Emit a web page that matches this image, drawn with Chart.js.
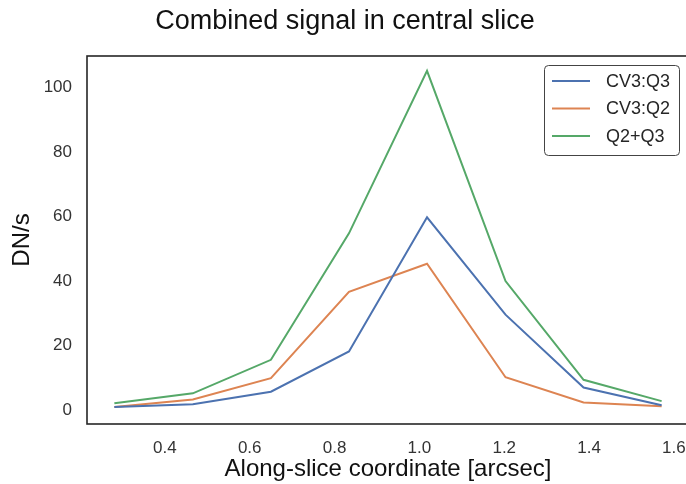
<!DOCTYPE html>
<html>
<head>
<meta charset="utf-8">
<script src="https://cdn.jsdelivr.net/npm/chart.js@4/dist/chart.umd.min.js"></script>
<style>
  html, body { margin: 0; padding: 0; background: #fff; overflow: hidden; }
  #wrap { width: 700px; height: 484px; position: relative; }
</style>
</head>
<body>
<div id="wrap"><canvas id="c" width="700" height="484"></canvas></div>
<script>
// Along-slice positions [arcsec]
const positions = [0.281, 0.466, 0.650, 0.834, 1.018, 1.203, 1.387, 1.571];
// Signal per quadrant [DN/s]
const cv3Q3 = [1.0, 1.8, 5.7, 18.2, 59.8, 29.6, 7.0, 1.5];
const cv3Q2 = [1.0, 3.3, 9.9, 36.7, 45.4, 10.2, 2.4, 1.2];
const q2PlusQ3 = [2.1, 5.2, 15.6, 54.8, 105.2, 40.0, 9.4, 2.8];

const seriesNames = ['CV3:Q3', 'CV3:Q2', 'Q2+Q3'];
const seriesColors = ['#4c72b0', '#dd8452', '#55a868'];
const seriesValues = [cv3Q3, cv3Q2, q2PlusQ3];

const xTicks = [0.4, 0.6, 0.8, 1.0, 1.2, 1.4, 1.6];
const yTicks = [0, 20, 40, 60, 80, 100];

const FONT = '"Liberation Sans", Arial, sans-serif';
const INK = '#262626';

const datasets = seriesNames.map((name, i) => ({
  label: name,
  data: positions.map((x, j) => ({ x, y: seriesValues[i][j] })),
  borderColor: seriesColors[i],
  backgroundColor: seriesColors[i],
  borderWidth: 2,
  pointRadius: 0,
  tension: 0,
  fill: false
}));

// Box around the plotting area
const framePlugin = {
  id: 'frame',
  afterDatasetsDraw(chart) {
    const { ctx, chartArea: a } = chart;
    ctx.save();
    ctx.strokeStyle = INK;
    ctx.lineWidth = 1.6;
    ctx.strokeRect(a.left, a.top, a.right - a.left, a.bottom - a.top);
    ctx.restore();
  }
};

// Framed legend in the upper right of the plot
const boxLegendPlugin = {
  id: 'boxLegend',
  afterDraw(chart) {
    const { ctx } = chart;
    const x0 = 544, y0 = 65, w = 135, h = 90, r = 4;
    ctx.save();
    ctx.beginPath();
    ctx.roundRect(x0 + 0.5, y0 + 0.5, w, h, r);
    ctx.fillStyle = 'rgba(255,255,255,0.9)';
    ctx.fill();
    ctx.strokeStyle = '#444';
    ctx.lineWidth = 1;
    ctx.stroke();
    ctx.font = '18px ' + FONT;
    ctx.textBaseline = 'middle';
    ctx.textAlign = 'left';
    chart.data.datasets.forEach((ds, i) => {
      const y = y0 + 16 + i * 27.5;
      ctx.beginPath();
      ctx.moveTo(552, y);
      ctx.lineTo(590, y);
      ctx.strokeStyle = ds.borderColor;
      ctx.lineWidth = 2;
      ctx.stroke();
      ctx.fillStyle = INK;
      ctx.fillText(ds.label, 606, y + 1);
    });
    ctx.restore();
  }
};

new Chart(document.getElementById('c'), {
  type: 'line',
  data: { datasets },
  plugins: [framePlugin, boxLegendPlugin],
  options: {
    responsive: false,
    animation: false,
    layout: { padding: { left: 0, right: 10, top: 0, bottom: 0 } },
    plugins: {
      legend: { display: false },
      tooltip: { enabled: false },
      title: {
        display: true,
        text: 'Combined signal in central slice',
        color: '#111',
        font: { family: FONT, size: 27, weight: 'normal' },
        padding: { top: 5, bottom: 18.6 }
      }
    },
    scales: {
      x: {
        type: 'linear',
        min: 0.2165,
        max: 1.6355,
        grid: { display: false, drawTicks: false },
        border: { display: false },
        afterBuildTicks(scale) { scale.ticks = xTicks.map(v => ({ value: v })); },
        afterFit(scale) { scale.height = 60; },
        ticks: {
          includeBounds: false,
          color: '#333',
          padding: 14,
          font: { family: FONT, size: 17 },
          callback: v => Number(v).toFixed(1)
        },
        title: {
          display: true,
          text: 'Along-slice coordinate [arcsec]',
          color: '#111',
          font: { family: FONT, size: 24 },
          padding: { top: 0, bottom: 0 }
        }
      },
      y: {
        type: 'linear',
        min: -4.3,
        max: 109.8,
        grid: { display: false, drawTicks: false },
        border: { display: false },
        afterBuildTicks(scale) { scale.ticks = yTicks.map(v => ({ value: v })); },
        afterFit(scale) { scale.width = 87; },
        ticks: {
          includeBounds: false,
          color: '#333',
          padding: 15,
          font: { family: FONT, size: 17 }
        },
        title: {
          display: true,
          text: 'DN/s',
          color: '#111',
          font: { family: FONT, size: 24 },
          padding: { top: 8, bottom: 0 }
        }
      }
    }
  }
});
</script>
</body>
</html>
